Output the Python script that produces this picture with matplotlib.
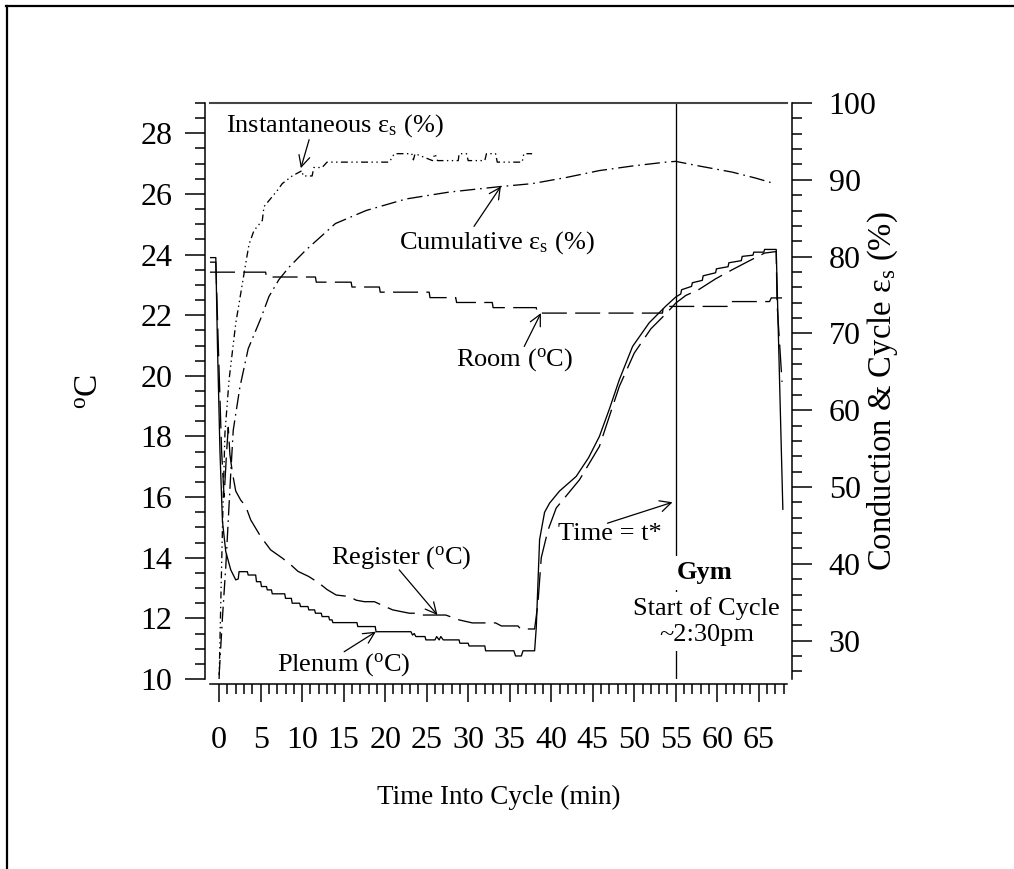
import matplotlib
matplotlib.use('Agg')
import matplotlib.pyplot as plt
from matplotlib.lines import Line2D

plt.rcParams['font.family'] = ['Liberation Serif', 'DejaVu Serif']
plt.rcParams['mathtext.fontset'] = 'custom'
plt.rcParams['mathtext.rm'] = 'Liberation Serif'
plt.rcParams['mathtext.it'] = 'Liberation Serif:italic'
plt.rcParams['mathtext.bf'] = 'Liberation Serif:bold'
plt.rcParams['lines.scale_dashes'] = False

# ---- data ----
# Plenum temperature (degC)
plenum_t = [-1.1, -0.4, -0.2, 0.1, 0.4, 0.8, 1.4, 2.0, 2.3, 2.4, 3.4, 3.5, 4.4, 4.5, 5.0, 5.1,
            5.7, 5.8, 6.3, 6.4, 7.9, 8.0, 8.7, 8.8, 9.7, 9.8, 10.7, 10.8, 11.5, 11.6, 12.3, 12.4,
            13.2, 13.3, 13.6, 13.7, 16.6, 16.7, 18.8, 18.9, 23.1, 23.3, 23.5, 23.7, 24.8, 24.9,
            26.0, 26.2, 26.5, 26.7, 27.0, 28.9, 29.0, 30.0, 30.1, 32.0, 32.1, 35.5, 35.7, 36.4,
            36.6, 38.0, 38.2, 38.6, 39.2, 39.8, 41.0, 43.0, 44.5, 45.8, 47.0, 48.2, 49.8, 51.8,
            53.8, 55.0, 55.6, 55.7, 56.9, 57.0, 58.2, 58.3, 59.8, 59.9, 61.3, 61.4, 62.9, 63.0,
            64.3, 64.4, 65.6, 65.7, 67.1, 67.9]
plenum_T = [23.9, 23.9, 21.0, 17.5, 15.2, 14.2, 13.6, 13.27, 13.3, 13.54, 13.54, 13.43, 13.43, 13.21, 13.21, 13.05,
            13.05, 12.94, 12.94, 12.81, 12.81, 12.66, 12.66, 12.5, 12.5, 12.39, 12.39, 12.28, 12.28, 12.17, 12.17, 12.06,
            12.06, 11.95, 11.95, 11.86, 11.86, 11.73, 11.73, 11.56, 11.56, 11.45, 11.5, 11.4, 11.4, 11.29,
            11.29, 11.4, 11.29, 11.4, 11.29, 11.29, 11.18, 11.18, 11.09, 11.09, 10.93, 10.93, 10.76, 10.76,
            10.93, 10.93, 11.7, 14.6, 15.5, 15.8, 16.2, 16.68, 17.3, 18.0, 18.9, 19.87, 20.97, 21.75,
            22.3, 22.6, 22.7, 22.84, 22.95, 23.07, 23.15, 23.3, 23.4, 23.53, 23.6, 23.73, 23.8, 23.94,
            23.98, 24.08, 24.08, 24.17, 24.17, 15.6]

# Register temperature (degC)
register_t = [-1.1, -0.4, -0.1, 0.3, 0.6, 0.9, 1.1, 1.3, 1.6, 2.0, 2.6, 3.2, 3.8, 5.0, 6.2, 7.6,
              8.5, 9.5, 10.8, 12.0, 13.0, 14.1, 15.7, 16.5, 17.5, 18.7, 19.5, 20.9, 22.9, 23.8, 24.5,
              27.3, 28.9, 30.5, 33.3, 34.0, 36.0, 36.3, 38.0, 38.4, 38.8, 39.6, 40.6, 43.4, 45.8,
              48.2, 50.0, 52.0, 54.0, 55.0, 56.2, 57.8, 59.8, 61.8, 63.9, 65.7, 67.1, 67.2, 67.8]
register_T = [23.75, 23.75, 21.0, 17.5, 16.0, 17.5, 18.3, 17.4, 16.8, 16.2, 15.9, 15.7, 15.25, 14.7, 14.26, 13.99,
              13.8, 13.55, 13.38, 13.17, 12.95, 12.77, 12.72, 12.6, 12.55, 12.55, 12.45, 12.28, 12.17, 12.17, 12.11,
              12.11, 11.95, 11.85, 11.85, 11.75, 11.75, 11.65, 11.65, 12.5, 14.0, 14.9, 15.64, 16.57, 17.67,
              19.65, 20.75, 21.55, 22.1, 22.4, 22.65, 22.85, 23.2, 23.5, 23.8, 24.05, 24.1, 22.4, 19.8]

# Room temperature (degC)
room_t = [-1.1, 5.6, 5.7, 11.6, 11.7, 15.9, 16.0, 19.3, 19.4, 25.3, 25.4, 28.5, 28.6, 32.9,
          33.0, 38.2, 38.3, 53.4, 53.5, 61.4, 61.5, 66.3, 66.5, 67.8]
room_T = [23.42, 23.42, 23.26, 23.26, 23.09, 23.09, 22.93, 22.93, 22.76, 22.76, 22.58, 22.58, 22.42, 22.42,
          22.25, 22.25, 22.07, 22.07, 22.29, 22.29, 22.45, 22.45, 22.57, 22.57]

# Instantaneous effectiveness (%)
inst_t = [0.0, 0.2, 0.45, 0.7, 1.2, 2.0, 3.2, 3.6, 4.2, 5.2, 5.4, 7.0, 7.6, 8.8, 10.0, 10.1,
          11.2, 11.4, 12.4, 13.0, 20.5, 21.1, 23.2, 23.4, 23.6, 25.7, 26.0, 26.3, 26.6, 28.8, 28.9,
          29.8, 30.0, 32.0, 32.2, 33.3, 33.5, 36.5, 36.7, 37.7]
inst_e = [25.0, 35.0, 47.0, 57.0, 64.0, 71.3, 79.1, 81.6, 83.4, 84.7, 86.5, 88.6, 89.5, 90.5, 91.2, 90.5,
          90.5, 91.6, 91.6, 92.3, 92.3, 93.4, 93.4, 92.6, 93.4, 92.5, 93.4, 92.5, 92.5, 92.5, 93.4,
          93.4, 92.5, 92.5, 93.4, 93.4, 92.3, 92.3, 93.4, 93.4]

# Cumulative effectiveness (%)
cum_t = [0.0, 0.4, 0.8, 1.4, 1.7, 2.5, 3.5, 5.0, 6.0, 7.2, 8.4, 10.4, 14.0, 17.7, 22.5, 27.7,
         33.7, 37.7, 41.8, 45.8, 49.8, 53.8, 55.0, 57.8, 61.8, 64.7, 66.9]
cum_e = [25.5, 33.0, 39.6, 51.8, 57.4, 63.0, 68.0, 71.9, 74.8, 77.0, 78.6, 80.8, 84.3, 86.0, 87.5, 88.4,
         89.1, 89.5, 90.3, 91.2, 91.8, 92.3, 92.4, 91.8, 91.0, 90.2, 89.5]

t_star = 55

x_major = list(range(0, 70, 5))
x_minor = list(range(0, 69))
y_major = list(range(10, 30, 2))
y_minor = [10 + 0.5 * i for i in range(39)]
r_major = list(range(30, 101, 10))
r_minor = list(range(26, 101, 2))

# ---- figure ----
fig = plt.figure(figsize=(10.14, 8.69), dpi=100)
ax = fig.add_axes([210 / 1014, 1 - 679 / 869, 577 / 1014, 576 / 869])
ax2 = ax.twinx()

fs = 19      # annotation / x-label text
tfs = 23     # tick labels
lw = 0.95

ax.plot(plenum_t, plenum_T, color='black', lw=lw)
ax.plot(register_t, register_T, color='black', lw=lw, dashes=(20, 6))
ax.plot(room_t, room_T, color='black', lw=lw, dashes=(18, 6))
ax2.plot(inst_t, inst_e, color='black', lw=lw, dashes=(5, 2.5, 1, 2.5, 1, 2.5))
ax2.plot(cum_t, cum_e, color='black', lw=lw, dashes=(11, 3.5, 1.2, 3.5))
ax.axvline(t_star, color='black', lw=lw, zorder=1)

ax.set_xlim(-1.1, 68.4)
ax.set_ylim(10, 29)
ax2.set_ylim(25, 100)

ax.set_xticks(x_major)
ax.set_xticks(x_minor, minor=True)
ax.set_yticks(y_major)
ax.set_yticks(y_minor, minor=True)
ax2.set_yticks(r_major)
ax2.set_yticks(r_minor, minor=True)

for a in (ax, ax2):
    for s in a.spines.values():
        s.set_linewidth(1.1)
ax.spines['right'].set_visible(False)
ax.spines['left'].set_position(('outward', 3.6))
ax.spines['bottom'].set_position(('outward', 3.6))
ax.spines['top'].set_color('#444444')
ax.spines['top'].set_linewidth(1.5)
for s in ('top', 'left', 'bottom'):
    ax2.spines[s].set_visible(False)
ax2.spines['right'].set_position(('outward', 3.6))

ax.tick_params(axis='x', which='major', direction='out', length=13, width=1.1, pad=17, labelsize=tfs)
ax.tick_params(axis='x', which='minor', direction='out', length=7.2, width=1.1)
ax.tick_params(axis='y', which='major', direction='out', length=14.4, width=1.1, pad=9, labelsize=tfs)
ax.tick_params(axis='y', which='minor', direction='out', length=7.2, width=1.1)
ax2.tick_params(axis='y', which='major', direction='out', length=14.4, width=1.1, pad=12, labelsize=tfs)
ax2.tick_params(axis='y', which='minor', direction='out', length=7.2, width=1.1)

ax.set_xlabel('Time Into Cycle (min)', fontsize=19.5, va='center')
ax.xaxis.set_label_coords(0.5, -0.205)
ax.set_ylabel(r'$^{\rm o}$C', fontsize=24, va='center')
ax.yaxis.set_label_coords(-0.208, 0.5)
ax2.set_ylabel(r'Conduction & Cycle ε$_{\rm s}$ (%)', fontsize=23.5, va='center', rotation=90)
ax2.yaxis.set_label_coords(1.166, 0.5)

# ---- annotations ----
arrow = dict(arrowstyle='->', color='black', lw=0.9, shrinkA=0, shrinkB=0, mutation_scale=20)


def label(text, x, y, tip, start, **kw):
    ax.text(x, y, text, fontsize=fs, va='center', ha='left', **kw)
    ax.annotate('', xy=tip, xytext=start, arrowprops=arrow)


label(r'Instantaneous ε$_{\rm s}$ (%)', 0.84, 28.25, (9.84, 26.85), (10.84, 27.79))
label(r'Cumulative ε$_{\rm s}$ (%)', 21.7, 24.39, (33.94, 26.25), (30.7, 24.93))
label(r'Room ($^{\rm o}$C)', 28.5, 20.53, (38.76, 22.07), (36.75, 20.97))
label(r'Register ($^{\rm o}$C)', 13.46, 13.99, (26.3, 12.11), (21.69, 13.6))
label(r'Plenum ($^{\rm o}$C)', 6.99, 10.46, (18.88, 11.56), (15.06, 10.9))
label('Time = t*', 40.84, 14.79, (54.61, 15.83), (46.78, 15.14))

box = dict(facecolor='white', edgecolor='none', pad=4)
ax.text(58.5, 13.5, 'Gym', fontsize=fs, fontweight='bold', ha='center', va='center', bbox=box, zorder=5)
ax.text(58.7, 11.9, 'Start of Cycle\n~2:30pm', fontsize=fs, ha='center', va='center',
        linespacing=1.2, bbox=box, zorder=5)

# outer frame
fig.add_artist(Line2D([6 / 1014, 1.0], [1 - 6 / 869, 1 - 6 / 869], transform=fig.transFigure,
                      color='black', lw=1.6))
fig.add_artist(Line2D([7 / 1014, 7 / 1014], [0.0, 1 - 6 / 869], transform=fig.transFigure,
                      color='black', lw=1.6))

fig.savefig('out.png', dpi=100)
